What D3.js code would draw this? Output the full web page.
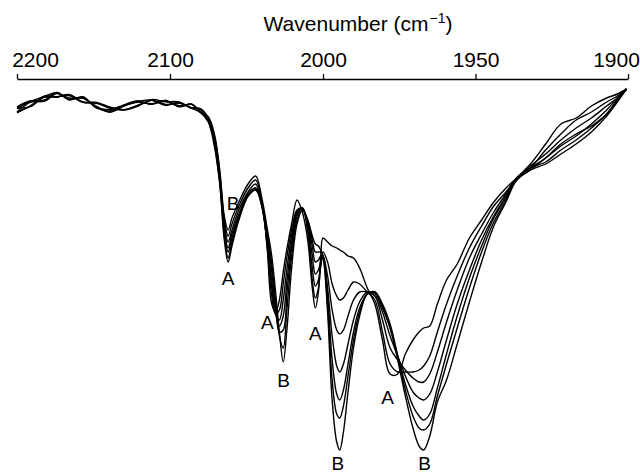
<!DOCTYPE html>
<html>
<head>
<meta charset="utf-8">
<script src="https://cdn.jsdelivr.net/npm/d3@7"></script>
<style>
  body { margin: 0; background: #fff; }
  svg { display: block; }
</style>
</head>
<body>
<div id="chart"></div>
<script>
// Wavenumber grid (cm-1), shared by all traces
const wn = [2200, 2191, 2182, 2174, 2166, 2157, 2148, 2139, 2130, 2121,
  2112, 2103, 2094, 2086, 2080, 2075, 2071, 2067.5, 2064.5, 2062,
  2059.5, 2055, 2049, 2044, 2040, 2036.5, 2033.5, 2031, 2028.5, 2026,
  2023.5, 2020.5, 2017, 2013.5, 2010, 2007, 2005, 2003, 2001.5, 2000,
  1998.5, 1997, 1995.5, 1994.5, 1993.3, 1991.8, 1990, 1988, 1985.5, 1983,
  1980.5, 1978, 1975.5, 1973, 1970.5, 1968.5, 1967, 1965, 1962.5, 1959.5,
  1956, 1952, 1948, 1944, 1940, 1936.5, 1932, 1927, 1922, 1917,
  1912, 1907, 1903.5, 1900.5];

// Transmittance (%), one array per spectrum
const spec1 = [92, 94.6, 95.9, 96.8, 95.2, 95.6, 93.2, 92, 93.6, 94.6,
  95, 93.7, 94.2, 93, 91.8, 89.5, 83.5, 74, 60, 54.5,
  58.5, 65, 71, 73, 69.5, 58, 44, 42, 45, 52,
  58, 64, 70, 67, 60, 48, 43, 47, 56, 60.5,
  59.5, 58.5, 58, 57.5, 57, 56, 55.5, 53, 48, 44,
  35, 26.5, 26.5, 31.5, 35, 37, 38, 38.5, 44, 50,
  54, 60.5, 65, 69.5, 73, 75.5, 79, 84, 89, 90.5,
  93.5, 95.5, 96.5, 97.8];
const spec2 = [92.9, 93.4, 95.8, 95.7, 96.4, 94.5, 94.3, 92.9, 92.5, 93.5,
  95.1, 94.6, 94.5, 92.9, 92.6, 89.8, 84, 74.5, 61, 55.5,
  59.5, 65.5, 71, 72.5, 69, 58.5, 46, 41.5, 42.5, 49,
  56, 62.5, 67.5, 68, 62, 50, 45.5, 48, 53.5, 57,
  54.5, 49, 46, 45, 45.5, 47.5, 49.5, 49, 47, 45,
  37, 29, 27, 27, 27, 27.5, 28.5, 31, 37, 44,
  51, 58, 63.5, 68.5, 72, 75.5, 78, 82.5, 86.5, 90,
  92, 94.5, 96, 97.8];
const spec3 = [93.3, 94.8, 94.8, 96.9, 95, 95.8, 93, 92.7, 93.8, 94.8,
  93.9, 94.9, 93.3, 93.9, 92, 90.2, 84.5, 75, 62, 57,
  60.5, 66, 71, 72.5, 68.5, 59, 48, 41.5, 40, 45,
  53, 61, 67, 68, 63, 53, 48.5, 50, 53.5, 56,
  51, 42.5, 37.5, 36.5, 37.5, 41, 45, 47, 47, 46,
  40, 33, 30, 27.5, 25.5, 24.5, 24.5, 26.5, 32, 39.5,
  47.5, 55.5, 61.5, 67, 71.5, 75, 78.5, 81.5, 85, 88,
  90.5, 93.5, 95.5, 97.6];
const spec4 = [91.8, 93.6, 95.7, 95.8, 96.3, 94.5, 94.2, 93, 92.6, 93.5,
  94.9, 93.8, 94.4, 93.1, 92.8, 90, 85, 75.5, 63, 58,
  61.5, 66.5, 71.5, 73, 68.5, 60, 50, 42, 38.5, 41,
  50, 59.5, 66.5, 68, 64, 56, 51.5, 52.5, 54.5, 55.5,
  48, 36, 28.5, 27, 29, 34, 40, 44.5, 47, 46.5,
  42, 36, 31, 26, 22, 20.5, 20, 21.5, 27, 35,
  44, 52.5, 60, 66, 71, 75.5, 78, 80.5, 83.5, 86,
  89, 92.5, 95.5, 97.8];
const spec5 = [92.8, 94.5, 94.7, 96.6, 95.5, 95.4, 93.4, 92, 93.5, 94.4,
  94.1, 94.6, 93.6, 93.9, 92.1, 90.4, 85.5, 76, 64, 59.5,
  62.5, 67.5, 72, 74, 69, 61, 52, 43, 37, 37.5,
  47, 58, 66, 68, 64.5, 58.5, 54.5, 55, 56, 56,
  46, 30, 21.5, 20, 22.5, 29, 37, 43, 46.5, 47,
  43.5, 38, 31, 24, 18.5, 16, 15, 16.5, 23, 31.5,
  41, 50.5, 58.5, 65.5, 70.5, 75, 77.5, 80.5, 84, 86.5,
  88.5, 91.5, 95, 97.6];
const spec6 = [92, 93.5, 96, 95.8, 96.1, 94.4, 94.4, 93.2, 92.6, 93.7,
  94.9, 93.9, 94.3, 93, 92.8, 90.6, 86, 77, 65, 61,
  64, 68.5, 73, 75, 69.5, 62, 54, 45, 36, 33,
  43, 56, 65, 67.5, 65, 60, 57, 57, 57, 56,
  44, 25, 16.5, 15.5, 18.5, 26, 35, 42, 46.5, 47,
  44, 39, 31, 22.5, 16, 13, 12.5, 14, 21, 29,
  38, 48, 57, 64.5, 70, 75.5, 78, 79.5, 82.5, 85,
  88, 91.5, 95, 97.7];
const spec7 = [93.1, 94.7, 95, 96.8, 95.2, 95.6, 93.1, 92.3, 93.7, 94.6,
  94, 94.9, 93.4, 94, 91.9, 90.8, 86.5, 77.5, 66, 62.5,
  65.5, 69.5, 74, 76, 70.5, 63, 56, 47, 37, 29.5,
  38, 53, 64, 67.5, 65, 61, 59, 58.5, 57.5, 56,
  42, 20, 9.5, 7.5, 12, 22, 33, 41, 46.5, 47,
  43, 38, 30, 21, 13, 8.5, 7.5, 11, 19.5, 25,
  34, 44.5, 54.5, 63.5, 69.5, 75, 77.5, 79, 81.5, 84,
  87, 91, 94.5, 97.8];
const spectra = [spec1, spec2, spec3, spec4, spec5, spec6, spec7];

// Axis ticks
const tickValues = [2200, 2100, 2000, 1950, 1900];

// Band labels (text, wavenumber, transmittance at label centre)
const labelText = ['B', 'A', 'A', 'B', 'A', 'B', 'A', 'B'];
const labelWn = [2058.8, 2062.1, 2036.3, 2025.8, 2005, 1995.1, 1978.8, 1966.7];
const labelT = [69.3, 50.5, 39.5, 25, 36.8, 4.2, 20.8, 4.2];

const width = 640, height = 474;
const axisY = 79;

const svg = d3.select('#chart').append('svg')
  .attr('width', width)
  .attr('height', height);

// Spectrometer scale doubles below 2000 cm-1
const x = d3.scaleLinear()
  .domain([2200, 2000, 1900])
  .range([17, 323, 628]);

const y = d3.scaleLinear()
  .domain([0, 100])
  .range([480, 80]);

// --- Axis on top ---
const axis = svg.append('g')
  .attr('transform', `translate(0,${axisY})`)
  .call(d3.axisTop(x)
    .tickValues(tickValues)
    .tickSize(5)
    .tickSizeOuter(0)
    .tickPadding(7)
    .tickFormat(d3.format('d')));

axis.attr('font-family', null).attr('font-size', null);
axis.select('.domain').attr('stroke', '#000').attr('stroke-width', 1.3);
axis.selectAll('.tick line').attr('stroke', '#000').attr('stroke-width', 1.3);
axis.selectAll('.tick text')
  .attr('fill', '#000')
  .style('font-family', '"Liberation Sans", Arial, sans-serif')
  .style('font-size', '21px')
  .attr('dx', d => d === 2200 ? 18 : d === 1900 ? -12 : 0);

// Title
const title = svg.append('text')
  .attr('x', 358).attr('y', 31)
  .attr('text-anchor', 'middle')
  .style('font-family', '"Liberation Sans", Arial, sans-serif')
  .style('font-size', '21px')
  .attr('fill', '#000');
title.append('tspan').text('Wavenumber (cm');
title.append('tspan').attr('dx', 1).attr('dy', -8).style('font-size', '14px').text('\u22121');
title.append('tspan').attr('dy', 8).text(')');

// --- Spectra ---
const line = d3.line()
  .x((d, i) => x(wn[i]))
  .y(d => y(d))
  .curve(d3.curveCatmullRom.alpha(0.5));

svg.append('g')
  .selectAll('path')
  .data(spectra)
  .join('path')
  .attr('d', line)
  .attr('fill', 'none')
  .attr('stroke', '#000')
  .attr('stroke-width', 1.4)
  .attr('stroke-linejoin', 'round');

// --- Band labels ---
svg.append('g')
  .selectAll('text')
  .data(labelText)
  .join('text')
  .attr('x', (d, i) => x(labelWn[i]))
  .attr('y', (d, i) => y(labelT[i]))
  .attr('dy', '0.36em')
  .attr('text-anchor', 'middle')
  .style('font-family', '"Liberation Sans", Arial, sans-serif')
  .style('font-size', '19px')
  .attr('fill', '#000')
  .text(d => d);
</script>
</body>
</html>
